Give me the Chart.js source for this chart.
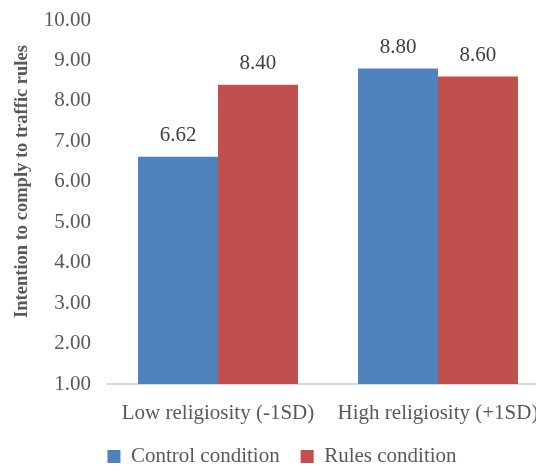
<!DOCTYPE html>
<html>
<head>
<meta charset="utf-8">
<script src="https://cdn.jsdelivr.net/npm/chart.js@4/dist/chart.umd.min.js"></script>
<style>
  html, body { margin: 0; padding: 0; background: #fff; overflow: hidden; }
  #wrap { width: 536px; height: 466px; overflow: hidden; position: relative; }
  canvas { display: block; }
</style>
</head>
<body>
<div id="wrap"><canvas id="c" width="560" height="477"></canvas></div>
<script>
// Chart data
const categories = ['Low religiosity (-1SD)', 'High religiosity (+1SD)'];
const seriesNames = ['Control condition', 'Rules condition'];
const controlValues = [6.62, 8.80];
const rulesValues = [8.40, 8.60];
const yMin = 1;
const yMax = 10;
const yStep = 1;
const yTitle = 'Intention to comply to traffic rules';

const FONT = '"Liberation Serif", "Times New Roman", serif';
const BLUE = '#4F81BD';
const RED = '#C0504D';

// Value labels above each bar
const valueLabels = {
  id: 'valueLabels',
  afterDatasetsDraw(chart) {
    const ctx = chart.ctx;
    ctx.save();
    ctx.font = '21px ' + FONT;
    ctx.fillStyle = '#404040';
    ctx.textAlign = 'center';
    ctx.textBaseline = 'middle';
    chart.data.datasets.forEach((ds, i) => {
      chart.getDatasetMeta(i).data.forEach((bar, j) => {
        ctx.fillText(ds.data[j].toFixed(2), bar.x, bar.y - 21.5);
      });
    });
    ctx.restore();
  }
};

// Rotated y-axis title
const yAxisTitle = {
  id: 'yAxisTitle',
  afterDraw(chart) {
    const ctx = chart.ctx;
    ctx.save();
    ctx.translate(22.5, 181.5);
    ctx.rotate(-Math.PI / 2);
    ctx.font = 'bold 18.5px ' + FONT;
    ctx.fillStyle = '#595959';
    ctx.textAlign = 'center';
    ctx.textBaseline = 'middle';
    ctx.fillText(yTitle, 0, 0);
    ctx.restore();
  }
};

new Chart(document.getElementById('c'), {
  type: 'bar',
  data: {
    labels: categories,
    datasets: [
      { label: seriesNames[0], data: controlValues, backgroundColor: BLUE },
      { label: seriesNames[1], data: rulesValues, backgroundColor: RED }
    ]
  },
  options: {
    responsive: false,
    animation: false,
    devicePixelRatio: 1,
    layout: { padding: { left: 16, right: 12, top: 20, bottom: 0 } },
    datasets: { bar: { categoryPercentage: 0.727, barPercentage: 1.0, borderWidth: 0 } },
    scales: {
      x: {
        grid: { display: false, drawTicks: false },
        border: { display: true, color: '#D9D9D9', width: 2 },
        ticks: {
          font: { family: FONT, size: 21 },
          color: '#595959',
          padding: 17,
          maxRotation: 0,
          autoSkip: false
        },
        afterFit(scale) { scale.height = 41; }
      },
      y: {
        min: yMin,
        max: yMax,
        grid: { display: false, drawTicks: false },
        border: { display: false },
        ticks: {
          stepSize: yStep,
          font: { family: FONT, size: 21 },
          color: '#595959',
          padding: 17,
          callback: (v) => Number(v).toFixed(2)
        },
        afterFit(scale) {
          scale.width = 92;
          scale.paddingTop = 0;
          scale.paddingBottom = 0;
        }
      }
    },
    plugins: {
      legend: {
        position: 'bottom',
        labels: {
          boxWidth: 13,
          boxHeight: 13,
          padding: 21,
          color: '#595959',
          font: { family: FONT, size: 21 }
        }
      },
      tooltip: { enabled: false }
    }
  },
  plugins: [valueLabels, yAxisTitle]
});
</script>
</body>
</html>
